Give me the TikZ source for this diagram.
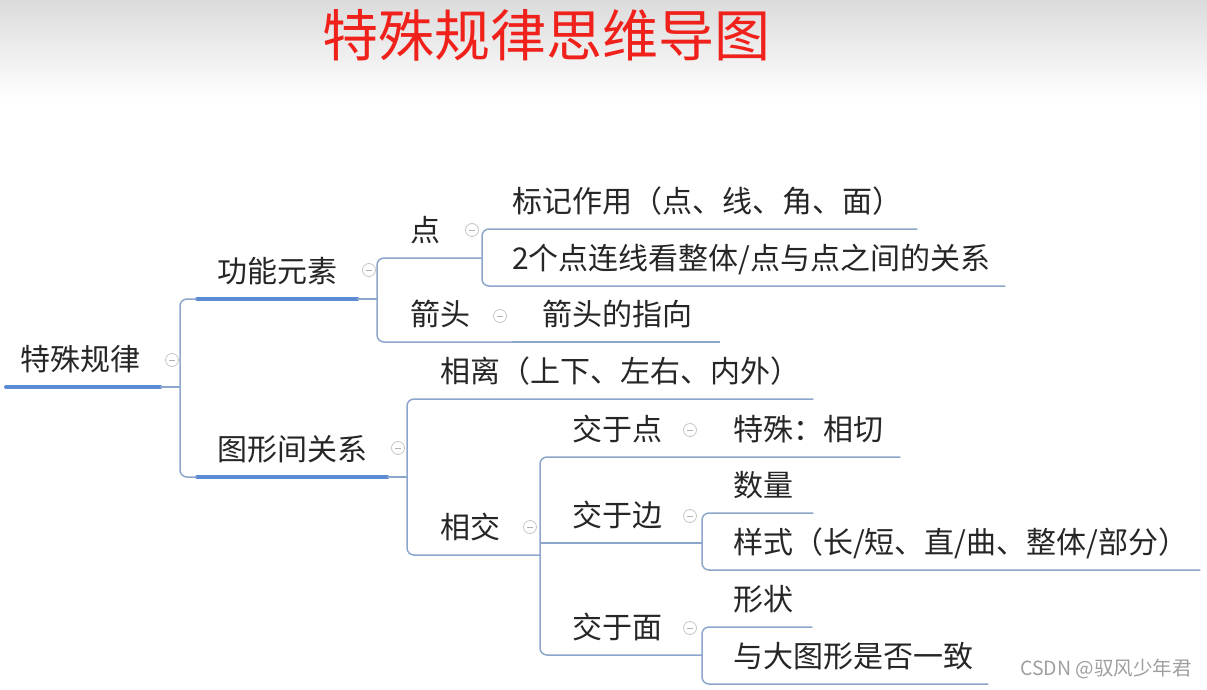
\documentclass[tikz,border=0pt]{standalone}
\usepackage{fontspec}
\setmainfont{Noto Sans CJK SC}
\usetikzlibrary{positioning, calc}
\definecolor{linkblue}{HTML}{8CA6CB}
\definecolor{mainblue}{HTML}{5B8BD3}
\definecolor{titlered}{HTML}{F0201A}

\begin{document}
\begin{tikzpicture}[x=1pt, y=-1pt,
    topic/.style={anchor=south west, inner xsep=31pt, inner ysep=16pt, text depth=0pt, align=left, font=\fontsize{30}{34}\selectfont, text=black!85},
    link/.style={draw=linkblue, line width=1.5pt, rounded corners=7pt},
    main/.style={draw=mainblue, line width=4pt, line cap=round},
    fold/.style={circle, draw=gray!45, fill=white, line width=0.8pt, minimum size=13pt, inner sep=0pt,
        path picture={\draw[gray!60, line width=0.8pt] ([xshift=-3pt]path picture bounding box.center) -- ([xshift=3pt]path picture bounding box.center);}}
]

% Sfondo e titolo
\useasboundingbox (0,0) rectangle (1207,690);
\fill[white] (0,0) rectangle (1207,690);
\shade[top color=black!14, bottom color=white] (0,0) rectangle (1207,100);
\node[font=\fontsize{56}{60}\selectfont, text=titlered, anchor=base] (title) at (546,57) {特殊规律思维导图};

% Nodo centrale
\node[topic, inner xsep=14pt, text width=126pt] (root) at (6,387) {特殊规律};

% Primo livello
\node[topic, inner xsep=20pt, text width=120pt] (gn) at (197,299) {功能元素};
\node[topic, inner xsep=20pt, text width=150pt] (tx) at (197,477) {图形间关系};

% Secondo livello
\node[topic, inner xsep=33pt, text width=39pt] (dian) at (377,258) {点};
\node[topic, inner xsep=33pt, text width=69pt] (jt) at (377,342) {箭头};
\node[topic, inner xsep=33pt, text width=340pt] (xl) at (407,399) {相离（上下、左右、内外）};
\node[topic, inner xsep=33pt, text width=67pt] (xj) at (407,555) {相交};

% Terzo livello
\node[topic, inner xsep=30pt, text width=375pt] (bj) at (482,229) {标记作用（点、线、角、面）};
\node[topic, inner xsep=30pt, text width=463pt] (lx) at (482,286) {2个点连线看整体/点与点之间的关系};
\node[topic, inner xsep=30pt, text width=148pt] (zx) at (512,342) {箭头的指向};
\node[topic, inner xsep=32pt, text width=98pt] (jd) at (540,457) {交于点};
\node[topic, inner xsep=32pt, text width=98pt] (jb) at (540,543) {交于边};
\node[topic, inner xsep=32pt, text width=98pt] (jm) at (540,655) {交于面};

% Quarto livello
\node[topic, text width=136pt] (qx) at (702,457) {特殊：相切};
\node[topic, text width=49pt] (sl) at (702,513) {数量};
\node[topic, text width=436pt] (ys) at (702,570) {样式（长/短、直/曲、整体/部分）};
\node[topic, text width=48pt] (xz) at (702,627) {形状};
\node[topic, text width=224pt] (yz) at (702,684) {与大图形是否一致};

% Linee principali
\draw[main] (root.south west) -- (root.south east);
\draw[main] (gn.south west) -- (gn.south east);
\draw[main] (tx.south west) -- (tx.south east);

% Edges della mappa
\coordinate (rootj) at (180,387);
\draw[link] (root.south east) -- (rootj);
\draw[link] (gn.south west) -| (rootj) |- (tx.south west);
\draw[link] (gn.south east) -- (gn.south east -| dian.south west);
\draw[link] (dian.south east) -- (dian.south west) -- (jt.south west) -- (jt.south east);
\draw[link] (bj.south east) -- (bj.south west) -- (lx.south west) -- (lx.south east);
\draw[link] (jt.south east) -- (zx.south east);
\draw[link] (tx.south east) -- (tx.south east -| xl.south west);
\draw[link] (xl.south east) -- (xl.south west) -- (xj.south west) -- (xj.south east);
\draw[link] (qx.south east) -- (jd.south west) -- (jm.south west) -- (jm.south east);
\draw[link] (jb.south west) -- (jb.south east);
\draw[link] (sl.south east) -- (sl.south west) -- (ys.south west) -- (ys.south east);
\draw[link] (xz.south east) -- (xz.south west) -- (yz.south west) -- (yz.south east);

% Pulsanti di chiusura
\node[fold] (f0) at (172,360) {};
\node[fold] (f1) at (369,270) {};
\node[fold] (f2) at (398,448) {};
\node[fold] (f3) at (472,230) {};
\node[fold] (f4) at (500,316) {};
\node[fold] (f5) at (530,527) {};
\node[fold] (f6) at (690,430) {};
\node[fold] (f7) at (690,516) {};
\node[fold] (f8) at (690,628) {};

% Firma
\node[anchor=base west, inner sep=0pt, font=\fontsize{19.5}{22}\selectfont, text=gray!75] (mark) at (1020,675) {CSDN @驭风少年君};

\end{tikzpicture}
\end{document}
